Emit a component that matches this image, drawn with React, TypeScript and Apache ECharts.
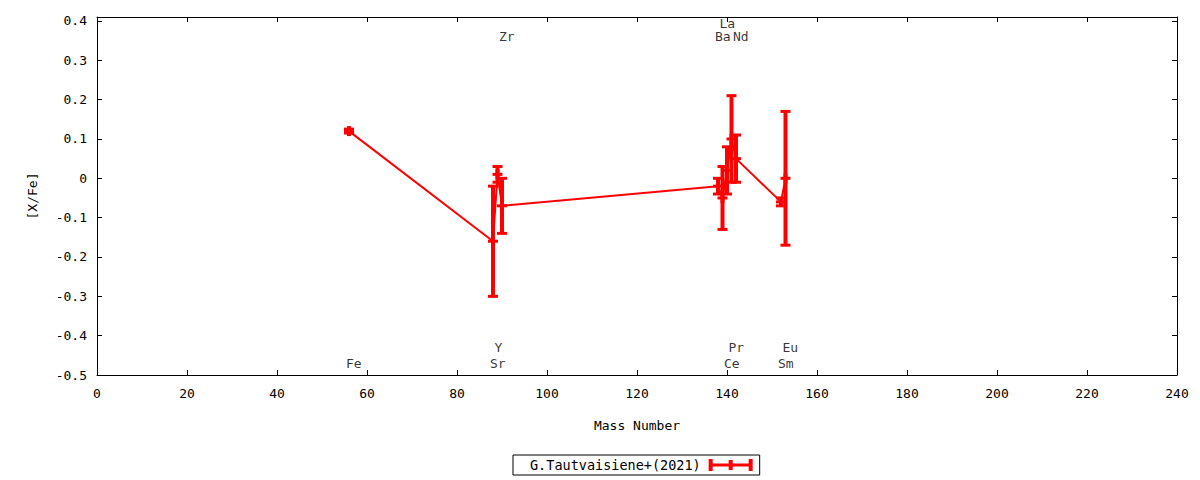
import React, { useEffect, useRef } from "react";
import * as echarts from "echarts";

// ---- data ----
const legendName = "G.Tautvaisiene+(2021)";
const elements = ["Fe", "Sr", "Y", "Zr", "Ba", "La", "Ce", "Pr", "Nd", "Sm", "Eu"];
const massNumbers = [56, 88, 89, 90, 138, 139, 140, 141, 142, 152, 153];
const xfeValues = [0.12, -0.16, 0.01, -0.07, -0.02, -0.05, 0.02, 0.1, 0.05, -0.06, 0.0];
const xfeErrors = [0.005, 0.14, 0.02, 0.07, 0.02, 0.08, 0.06, 0.11, 0.06, 0.01, 0.17];

// element name labels (placed at mass number, this y)
const labelY = [-0.47, -0.47, -0.43, 0.36, 0.36, 0.394, -0.47, -0.43, 0.36, -0.47, -0.43];

const xMin = 0;
const xMax = 240;
const xTickStep = 20;
const yMin = -0.5;
const yMax = 0.41;
const yTickStep = 0.1;

const RED = "#ff0000";
const FONT = "DejaVu Sans Mono";

export default function App() {
  const ref = useRef<HTMLDivElement>(null);

  useEffect(() => {
    if (!ref.current) return;
    const chart = echarts.init(ref.current, undefined, { renderer: "svg" });

    const linePoints = massNumbers.map((m, i) => [m, xfeValues[i]]);
    const errData = massNumbers.map((m, i) => [m, xfeValues[i], xfeErrors[i]]);
    const labelData = massNumbers.map((m, i) => ({ value: [m, labelY[i]], name: elements[i] }));

    const renderItem = (params: any, api: any) => {
      const x = api.value(0);
      const y = api.value(1);
      const e = api.value(2);
      const p = api.coord([x, y]);
      const t = api.coord([x, y + e]);
      const b = api.coord([x, y - e]);
      const hw = 5;
      const st = { stroke: RED, lineWidth: 4 };
      const st2 = { stroke: RED, lineWidth: 3 };
      return {
        type: "group",
        children: [
          { type: "line", shape: { x1: p[0], y1: t[1], x2: p[0], y2: b[1] }, style: st },
          { type: "line", shape: { x1: p[0] - hw, y1: t[1], x2: p[0] + hw, y2: t[1] }, style: st2 },
          { type: "line", shape: { x1: p[0] - hw, y1: b[1], x2: p[0] + hw, y2: b[1] }, style: st2 },
          { type: "line", shape: { x1: p[0] - hw, y1: p[1], x2: p[0] + hw, y2: p[1] }, style: st2 },
          { type: "line", shape: { x1: p[0], y1: p[1] - hw, x2: p[0], y2: p[1] + hw }, style: st },
        ],
      };
    };

    const axisLine = { show: true, onZero: false, lineStyle: { color: "#000", width: 1 } };
    const tick = { show: true, inside: true, length: 5, lineStyle: { color: "#000" } };

    const option: any = {
      animation: false,
      textStyle: { fontFamily: FONT, fontSize: 13, color: "#000" },
      grid: { left: 97, right: 23, top: 17, bottom: 105, containLabel: false },
      legend: {
        left: 513,
        top: 455,
        orient: "horizontal",
        align: "right",
        borderColor: "#000",
        borderWidth: 1,
        borderRadius: 0,
        padding: [3, 7, 3, 17],
        itemWidth: 44,
        itemHeight: 12,
        textStyle: { fontFamily: FONT, fontSize: 13.5, color: "#000", padding: [0, 3, 0, 0] },
        data: [
          {
            name: legendName,
            icon: "path://M0,0H4V12H0Z M40,0H44V12H40Z M20,1H24V11H20Z M0,4.5H44V7.5H0Z",
            itemStyle: { color: RED, borderWidth: 0 },
          },
        ],
      },
      xAxis: [
        {
          type: "value",
          min: xMin,
          max: xMax,
          interval: xTickStep,
          position: "bottom",
          axisLine,
          axisTick: tick,
          splitLine: { show: false },
          axisLabel: { color: "#000", fontFamily: FONT, fontSize: 13, margin: 12 },
          name: "Mass Number",
          nameLocation: "middle",
          nameGap: 44,
          nameTextStyle: { color: "#000", fontFamily: FONT, fontSize: 13 },
        },
        {
          type: "value",
          min: xMin,
          max: xMax,
          interval: xTickStep,
          position: "top",
          axisLine,
          axisTick: tick,
          splitLine: { show: false },
          axisLabel: { show: false },
        },
      ],
      yAxis: [
        {
          type: "value",
          min: yMin,
          max: yMax,
          interval: yTickStep,
          position: "left",
          axisLine,
          axisTick: tick,
          splitLine: { show: false },
          axisLabel: {
            color: "#000",
            fontFamily: FONT,
            fontSize: 13,
            margin: 10,
            formatter: (v: number) => {
              const r = Math.round(v * 10) / 10;
              if (Math.abs(v - r) > 1e-6) return "";
              return String(r);
            },
          },
          name: "[X/Fe]",
          nameLocation: "middle",
          nameRotate: 90,
          nameGap: 58,
          nameTextStyle: { color: "#000", fontFamily: FONT, fontSize: 13 },
        },
        {
          type: "value",
          min: yMin,
          max: yMax,
          interval: yTickStep,
          position: "right",
          axisLine,
          axisTick: tick,
          splitLine: { show: false },
          axisLabel: { show: false },
        },
      ],
      series: [
        {
          type: "line",
          name: legendName,
          data: linePoints,
          symbol: "none",
          lineStyle: { color: RED, width: 2 },
          itemStyle: { color: RED },
          z: 2,
        },
        {
          type: "custom",
          name: legendName,
          data: errData,
          renderItem,
          encode: { x: 0, y: 1 },
          itemStyle: { color: RED },
          z: 3,
        },
        {
          type: "scatter",
          name: "labels",
          data: labelData,
          symbol: "circle",
          symbolSize: 0,
          silent: true,
          itemStyle: { color: "transparent" },
          label: {
            show: true,
            position: "right",
            distance: 0,
            offset: [-3, 0],
            formatter: (p: any) => p.name,
            color: "#000",
            fontFamily: FONT,
            fontSize: 13,
          },
          z: 4,
        },
      ],
    };

    chart.setOption(option);
    return () => chart.dispose();
  }, []);

  return (
    <div
      ref={ref}
      style={{ position: "fixed", left: 0, top: 0, width: 1200, height: 480, background: "#fff" }}
    />
  );
}
